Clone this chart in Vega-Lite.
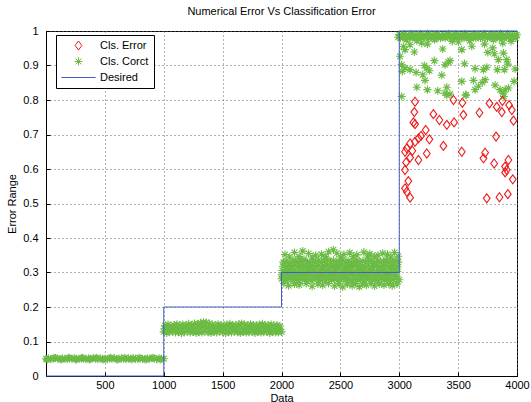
{
"$schema": "https://vega.github.io/schema/vega-lite/v6.json",
"width": 471, "height": 345,
"autosize": "none",
"padding": {"left": 46, "top": 31, "right": 14, "bottom": 26},
"title": {"text": "Numerical Error Vs Classification Error", "fontSize": 11, "fontWeight": "normal", "font": "Liberation Sans", "color": "black", "offset": 8, "anchor": "middle"},
"config": {
 "view": {"stroke": "black", "strokeWidth": 1},
 "axis": {"domainColor": "black", "tickColor": "black", "labelColor": "black", "titleColor": "black", "labelFont": "Liberation Sans", "titleFont": "Liberation Sans", "labelFontSize": 11, "titleFontSize": 11, "titleFontWeight": "normal", "grid": true, "gridDash": [1, 3], "gridColor": "#666", "tickSize": -4, "labelOverlap": false, "labelFlush": false},
 "legend": {"orient": "none", "legendX": 10, "legendY": 4, "fillColor": "white", "strokeColor": "black", "padding": 5, "labelFont": "Liberation Sans", "labelFontSize": 11, "labelColor": "black", "symbolSize": 81, "symbolStrokeWidth": 1, "symbolOffset": 12, "labelOffset": 16, "rowPadding": 3}
},
"data": {"values": [
{"x":0,"y":0.050,"s":"c"},{"x":20,"y":0.051,"s":"c"},{"x":40,"y":0.049,"s":"c"},{"x":60,"y":0.050,"s":"c"},{"x":80,"y":0.052,"s":"c"},{"x":100,"y":0.050,"s":"c"},{"x":120,"y":0.049,"s":"c"},{"x":140,"y":0.051,"s":"c"},{"x":160,"y":0.050,"s":"c"},{"x":180,"y":0.049,"s":"c"},{"x":200,"y":0.051,"s":"c"},{"x":220,"y":0.050,"s":"c"},{"x":240,"y":0.052,"s":"c"},{"x":260,"y":0.049,"s":"c"},{"x":280,"y":0.050,"s":"c"},{"x":300,"y":0.051,"s":"c"},{"x":320,"y":0.050,"s":"c"},{"x":340,"y":0.049,"s":"c"},{"x":360,"y":0.051,"s":"c"},{"x":380,"y":0.050,"s":"c"},{"x":400,"y":0.052,"s":"c"},{"x":420,"y":0.050,"s":"c"},{"x":440,"y":0.049,"s":"c"},{"x":460,"y":0.051,"s":"c"},{"x":480,"y":0.050,"s":"c"},{"x":500,"y":0.050,"s":"c"},{"x":520,"y":0.049,"s":"c"},{"x":540,"y":0.051,"s":"c"},{"x":560,"y":0.050,"s":"c"},{"x":580,"y":0.052,"s":"c"},{"x":600,"y":0.049,"s":"c"},{"x":620,"y":0.050,"s":"c"},{"x":640,"y":0.051,"s":"c"},{"x":660,"y":0.050,"s":"c"},{"x":680,"y":0.049,"s":"c"},{"x":700,"y":0.051,"s":"c"},{"x":720,"y":0.050,"s":"c"},{"x":740,"y":0.052,"s":"c"},{"x":760,"y":0.050,"s":"c"},{"x":780,"y":0.049,"s":"c"},{"x":800,"y":0.051,"s":"c"},{"x":820,"y":0.050,"s":"c"},{"x":840,"y":0.049,"s":"c"},{"x":860,"y":0.051,"s":"c"},{"x":880,"y":0.050,"s":"c"},{"x":900,"y":0.052,"s":"c"},{"x":920,"y":0.050,"s":"c"},{"x":940,"y":0.049,"s":"c"},{"x":960,"y":0.051,"s":"c"},{"x":980,"y":0.050,"s":"c"},{"x":1000,"y":0.050,"s":"c"},
{"x":10,"y":0.048,"s":"c"},{"x":70,"y":0.053,"s":"c"},{"x":130,"y":0.048,"s":"c"},{"x":190,"y":0.053,"s":"c"},{"x":250,"y":0.048,"s":"c"},{"x":310,"y":0.053,"s":"c"},{"x":370,"y":0.048,"s":"c"},{"x":430,"y":0.053,"s":"c"},{"x":490,"y":0.048,"s":"c"},{"x":550,"y":0.053,"s":"c"},{"x":610,"y":0.048,"s":"c"},{"x":670,"y":0.053,"s":"c"},{"x":730,"y":0.048,"s":"c"},{"x":790,"y":0.053,"s":"c"},{"x":850,"y":0.048,"s":"c"},{"x":910,"y":0.053,"s":"c"},{"x":970,"y":0.048,"s":"c"},
{"x":1000,"y":0.128,"s":"c"},{"x":1025,"y":0.125,"s":"c"},{"x":1050,"y":0.127,"s":"c"},{"x":1075,"y":0.129,"s":"c"},{"x":1100,"y":0.126,"s":"c"},{"x":1125,"y":0.128,"s":"c"},{"x":1150,"y":0.124,"s":"c"},{"x":1175,"y":0.127,"s":"c"},{"x":1200,"y":0.129,"s":"c"},{"x":1225,"y":0.126,"s":"c"},{"x":1250,"y":0.128,"s":"c"},{"x":1275,"y":0.125,"s":"c"},{"x":1300,"y":0.127,"s":"c"},{"x":1325,"y":0.126,"s":"c"},{"x":1350,"y":0.129,"s":"c"},{"x":1375,"y":0.127,"s":"c"},{"x":1400,"y":0.125,"s":"c"},{"x":1425,"y":0.128,"s":"c"},{"x":1450,"y":0.126,"s":"c"},{"x":1475,"y":0.129,"s":"c"},{"x":1500,"y":0.127,"s":"c"},{"x":1525,"y":0.124,"s":"c"},{"x":1550,"y":0.128,"s":"c"},{"x":1575,"y":0.126,"s":"c"},{"x":1600,"y":0.129,"s":"c"},{"x":1625,"y":0.127,"s":"c"},{"x":1650,"y":0.125,"s":"c"},{"x":1675,"y":0.128,"s":"c"},{"x":1700,"y":0.126,"s":"c"},{"x":1725,"y":0.127,"s":"c"},{"x":1750,"y":0.129,"s":"c"},{"x":1775,"y":0.125,"s":"c"},{"x":1800,"y":0.128,"s":"c"},{"x":1825,"y":0.126,"s":"c"},{"x":1850,"y":0.127,"s":"c"},{"x":1875,"y":0.129,"s":"c"},{"x":1900,"y":0.125,"s":"c"},{"x":1925,"y":0.128,"s":"c"},{"x":1950,"y":0.126,"s":"c"},{"x":1975,"y":0.127,"s":"c"},{"x":2000,"y":0.128,"s":"c"},
{"x":1006,"y":0.137,"s":"c"},{"x":1031,"y":0.139,"s":"c"},{"x":1056,"y":0.136,"s":"c"},{"x":1081,"y":0.138,"s":"c"},{"x":1106,"y":0.137,"s":"c"},{"x":1131,"y":0.139,"s":"c"},{"x":1156,"y":0.136,"s":"c"},{"x":1181,"y":0.138,"s":"c"},{"x":1206,"y":0.137,"s":"c"},{"x":1231,"y":0.139,"s":"c"},{"x":1256,"y":0.138,"s":"c"},{"x":1281,"y":0.140,"s":"c"},{"x":1306,"y":0.141,"s":"c"},{"x":1331,"y":0.142,"s":"c"},{"x":1356,"y":0.141,"s":"c"},{"x":1381,"y":0.139,"s":"c"},{"x":1406,"y":0.137,"s":"c"},{"x":1431,"y":0.138,"s":"c"},{"x":1456,"y":0.136,"s":"c"},{"x":1481,"y":0.138,"s":"c"},{"x":1506,"y":0.137,"s":"c"},{"x":1531,"y":0.139,"s":"c"},{"x":1556,"y":0.136,"s":"c"},{"x":1581,"y":0.138,"s":"c"},{"x":1606,"y":0.137,"s":"c"},{"x":1631,"y":0.139,"s":"c"},{"x":1656,"y":0.138,"s":"c"},{"x":1681,"y":0.136,"s":"c"},{"x":1706,"y":0.137,"s":"c"},{"x":1731,"y":0.139,"s":"c"},{"x":1756,"y":0.138,"s":"c"},{"x":1781,"y":0.136,"s":"c"},{"x":1806,"y":0.137,"s":"c"},{"x":1831,"y":0.139,"s":"c"},{"x":1856,"y":0.138,"s":"c"},{"x":1881,"y":0.136,"s":"c"},{"x":1906,"y":0.137,"s":"c"},{"x":1931,"y":0.139,"s":"c"},{"x":1956,"y":0.138,"s":"c"},{"x":1981,"y":0.136,"s":"c"},
{"x":1012,"y":0.146,"s":"c"},{"x":1037,"y":0.149,"s":"c"},{"x":1062,"y":0.145,"s":"c"},{"x":1087,"y":0.148,"s":"c"},{"x":1112,"y":0.150,"s":"c"},{"x":1137,"y":0.146,"s":"c"},{"x":1162,"y":0.149,"s":"c"},{"x":1187,"y":0.147,"s":"c"},{"x":1212,"y":0.151,"s":"c"},{"x":1237,"y":0.148,"s":"c"},{"x":1262,"y":0.152,"s":"c"},{"x":1287,"y":0.150,"s":"c"},{"x":1312,"y":0.154,"s":"c"},{"x":1337,"y":0.156,"s":"c"},{"x":1362,"y":0.155,"s":"c"},{"x":1387,"y":0.152,"s":"c"},{"x":1412,"y":0.149,"s":"c"},{"x":1437,"y":0.147,"s":"c"},{"x":1462,"y":0.150,"s":"c"},{"x":1487,"y":0.148,"s":"c"},{"x":1512,"y":0.146,"s":"c"},{"x":1537,"y":0.149,"s":"c"},{"x":1562,"y":0.151,"s":"c"},{"x":1587,"y":0.148,"s":"c"},{"x":1612,"y":0.147,"s":"c"},{"x":1637,"y":0.150,"s":"c"},{"x":1662,"y":0.152,"s":"c"},{"x":1687,"y":0.149,"s":"c"},{"x":1712,"y":0.147,"s":"c"},{"x":1737,"y":0.150,"s":"c"},{"x":1762,"y":0.148,"s":"c"},{"x":1787,"y":0.146,"s":"c"},{"x":1812,"y":0.149,"s":"c"},{"x":1837,"y":0.151,"s":"c"},{"x":1862,"y":0.148,"s":"c"},{"x":1887,"y":0.147,"s":"c"},{"x":1912,"y":0.149,"s":"c"},{"x":1937,"y":0.146,"s":"c"},{"x":1962,"y":0.148,"s":"c"},{"x":1987,"y":0.145,"s":"c"},
{"x":2000,"y":0.282,"s":"c"},{"x":2025,"y":0.277,"s":"c"},{"x":2050,"y":0.280,"s":"c"},{"x":2075,"y":0.284,"s":"c"},{"x":2100,"y":0.278,"s":"c"},{"x":2125,"y":0.281,"s":"c"},{"x":2150,"y":0.276,"s":"c"},{"x":2175,"y":0.283,"s":"c"},{"x":2200,"y":0.279,"s":"c"},{"x":2225,"y":0.282,"s":"c"},{"x":2250,"y":0.277,"s":"c"},{"x":2275,"y":0.280,"s":"c"},{"x":2300,"y":0.284,"s":"c"},{"x":2325,"y":0.278,"s":"c"},{"x":2350,"y":0.281,"s":"c"},{"x":2375,"y":0.276,"s":"c"},{"x":2400,"y":0.283,"s":"c"},{"x":2425,"y":0.279,"s":"c"},{"x":2450,"y":0.282,"s":"c"},{"x":2475,"y":0.277,"s":"c"},{"x":2500,"y":0.280,"s":"c"},{"x":2525,"y":0.284,"s":"c"},{"x":2550,"y":0.278,"s":"c"},{"x":2575,"y":0.281,"s":"c"},{"x":2600,"y":0.276,"s":"c"},{"x":2625,"y":0.283,"s":"c"},{"x":2650,"y":0.279,"s":"c"},{"x":2675,"y":0.282,"s":"c"},{"x":2700,"y":0.277,"s":"c"},{"x":2725,"y":0.280,"s":"c"},{"x":2750,"y":0.284,"s":"c"},{"x":2775,"y":0.278,"s":"c"},{"x":2800,"y":0.281,"s":"c"},{"x":2825,"y":0.276,"s":"c"},{"x":2850,"y":0.283,"s":"c"},{"x":2875,"y":0.279,"s":"c"},{"x":2900,"y":0.282,"s":"c"},{"x":2925,"y":0.277,"s":"c"},{"x":2950,"y":0.280,"s":"c"},{"x":2975,"y":0.283,"s":"c"},{"x":3000,"y":0.279,"s":"c"},
{"x":2004,"y":0.293,"s":"c"},{"x":2029,"y":0.290,"s":"c"},{"x":2054,"y":0.295,"s":"c"},{"x":2079,"y":0.292,"s":"c"},{"x":2104,"y":0.289,"s":"c"},{"x":2129,"y":0.294,"s":"c"},{"x":2154,"y":0.291,"s":"c"},{"x":2179,"y":0.293,"s":"c"},{"x":2204,"y":0.290,"s":"c"},{"x":2229,"y":0.295,"s":"c"},{"x":2254,"y":0.292,"s":"c"},{"x":2279,"y":0.289,"s":"c"},{"x":2304,"y":0.294,"s":"c"},{"x":2329,"y":0.291,"s":"c"},{"x":2354,"y":0.293,"s":"c"},{"x":2379,"y":0.290,"s":"c"},{"x":2404,"y":0.295,"s":"c"},{"x":2429,"y":0.292,"s":"c"},{"x":2454,"y":0.289,"s":"c"},{"x":2479,"y":0.294,"s":"c"},{"x":2504,"y":0.291,"s":"c"},{"x":2529,"y":0.293,"s":"c"},{"x":2554,"y":0.290,"s":"c"},{"x":2579,"y":0.295,"s":"c"},{"x":2604,"y":0.292,"s":"c"},{"x":2629,"y":0.289,"s":"c"},{"x":2654,"y":0.294,"s":"c"},{"x":2679,"y":0.291,"s":"c"},{"x":2704,"y":0.293,"s":"c"},{"x":2729,"y":0.290,"s":"c"},{"x":2754,"y":0.295,"s":"c"},{"x":2779,"y":0.292,"s":"c"},{"x":2804,"y":0.289,"s":"c"},{"x":2829,"y":0.294,"s":"c"},{"x":2854,"y":0.291,"s":"c"},{"x":2879,"y":0.293,"s":"c"},{"x":2904,"y":0.290,"s":"c"},{"x":2929,"y":0.295,"s":"c"},{"x":2954,"y":0.292,"s":"c"},{"x":2979,"y":0.289,"s":"c"},
{"x":2008,"y":0.306,"s":"c"},{"x":2033,"y":0.301,"s":"c"},{"x":2058,"y":0.309,"s":"c"},{"x":2083,"y":0.303,"s":"c"},{"x":2108,"y":0.307,"s":"c"},{"x":2133,"y":0.300,"s":"c"},{"x":2158,"y":0.305,"s":"c"},{"x":2183,"y":0.310,"s":"c"},{"x":2208,"y":0.302,"s":"c"},{"x":2233,"y":0.306,"s":"c"},{"x":2258,"y":0.304,"s":"c"},{"x":2283,"y":0.308,"s":"c"},{"x":2308,"y":0.301,"s":"c"},{"x":2333,"y":0.305,"s":"c"},{"x":2358,"y":0.309,"s":"c"},{"x":2383,"y":0.303,"s":"c"},{"x":2408,"y":0.307,"s":"c"},{"x":2433,"y":0.300,"s":"c"},{"x":2458,"y":0.305,"s":"c"},{"x":2483,"y":0.310,"s":"c"},{"x":2508,"y":0.302,"s":"c"},{"x":2533,"y":0.306,"s":"c"},{"x":2558,"y":0.304,"s":"c"},{"x":2583,"y":0.308,"s":"c"},{"x":2608,"y":0.301,"s":"c"},{"x":2633,"y":0.305,"s":"c"},{"x":2658,"y":0.309,"s":"c"},{"x":2683,"y":0.303,"s":"c"},{"x":2708,"y":0.307,"s":"c"},{"x":2733,"y":0.300,"s":"c"},{"x":2758,"y":0.305,"s":"c"},{"x":2783,"y":0.310,"s":"c"},{"x":2808,"y":0.302,"s":"c"},{"x":2833,"y":0.306,"s":"c"},{"x":2858,"y":0.304,"s":"c"},{"x":2883,"y":0.308,"s":"c"},{"x":2908,"y":0.301,"s":"c"},{"x":2933,"y":0.305,"s":"c"},{"x":2958,"y":0.309,"s":"c"},{"x":2983,"y":0.303,"s":"c"},
{"x":2012,"y":0.318,"s":"c"},{"x":2037,"y":0.315,"s":"c"},{"x":2062,"y":0.320,"s":"c"},{"x":2087,"y":0.317,"s":"c"},{"x":2112,"y":0.321,"s":"c"},{"x":2137,"y":0.316,"s":"c"},{"x":2162,"y":0.319,"s":"c"},{"x":2187,"y":0.322,"s":"c"},{"x":2212,"y":0.317,"s":"c"},{"x":2237,"y":0.315,"s":"c"},{"x":2262,"y":0.320,"s":"c"},{"x":2287,"y":0.318,"s":"c"},{"x":2312,"y":0.321,"s":"c"},{"x":2337,"y":0.316,"s":"c"},{"x":2362,"y":0.319,"s":"c"},{"x":2387,"y":0.322,"s":"c"},{"x":2412,"y":0.317,"s":"c"},{"x":2437,"y":0.320,"s":"c"},{"x":2462,"y":0.315,"s":"c"},{"x":2487,"y":0.318,"s":"c"},{"x":2512,"y":0.321,"s":"c"},{"x":2537,"y":0.316,"s":"c"},{"x":2562,"y":0.319,"s":"c"},{"x":2587,"y":0.317,"s":"c"},{"x":2612,"y":0.320,"s":"c"},{"x":2637,"y":0.322,"s":"c"},{"x":2662,"y":0.316,"s":"c"},{"x":2687,"y":0.318,"s":"c"},{"x":2712,"y":0.315,"s":"c"},{"x":2737,"y":0.321,"s":"c"},{"x":2762,"y":0.317,"s":"c"},{"x":2787,"y":0.319,"s":"c"},{"x":2812,"y":0.320,"s":"c"},{"x":2837,"y":0.316,"s":"c"},{"x":2862,"y":0.318,"s":"c"},{"x":2887,"y":0.321,"s":"c"},{"x":2912,"y":0.317,"s":"c"},{"x":2937,"y":0.319,"s":"c"},{"x":2962,"y":0.320,"s":"c"},{"x":2987,"y":0.316,"s":"c"},
{"x":2016,"y":0.330,"s":"c"},{"x":2041,"y":0.334,"s":"c"},{"x":2066,"y":0.327,"s":"c"},{"x":2091,"y":0.332,"s":"c"},{"x":2116,"y":0.336,"s":"c"},{"x":2141,"y":0.329,"s":"c"},{"x":2166,"y":0.333,"s":"c"},{"x":2191,"y":0.338,"s":"c"},{"x":2216,"y":0.331,"s":"c"},{"x":2241,"y":0.328,"s":"c"},{"x":2266,"y":0.334,"s":"c"},{"x":2291,"y":0.330,"s":"c"},{"x":2316,"y":0.336,"s":"c"},{"x":2341,"y":0.329,"s":"c"},{"x":2366,"y":0.333,"s":"c"},{"x":2391,"y":0.337,"s":"c"},{"x":2416,"y":0.331,"s":"c"},{"x":2441,"y":0.335,"s":"c"},{"x":2466,"y":0.328,"s":"c"},{"x":2491,"y":0.332,"s":"c"},{"x":2516,"y":0.336,"s":"c"},{"x":2541,"y":0.330,"s":"c"},{"x":2566,"y":0.334,"s":"c"},{"x":2591,"y":0.327,"s":"c"},{"x":2616,"y":0.332,"s":"c"},{"x":2641,"y":0.335,"s":"c"},{"x":2666,"y":0.329,"s":"c"},{"x":2691,"y":0.333,"s":"c"},{"x":2716,"y":0.330,"s":"c"},{"x":2741,"y":0.336,"s":"c"},{"x":2766,"y":0.331,"s":"c"},{"x":2791,"y":0.328,"s":"c"},{"x":2816,"y":0.334,"s":"c"},{"x":2841,"y":0.330,"s":"c"},{"x":2866,"y":0.333,"s":"c"},{"x":2891,"y":0.336,"s":"c"},{"x":2916,"y":0.329,"s":"c"},{"x":2941,"y":0.332,"s":"c"},{"x":2966,"y":0.335,"s":"c"},{"x":2991,"y":0.330,"s":"c"},
{"x":2030,"y":0.352,"s":"c"},{"x":2070,"y":0.345,"s":"c"},{"x":2110,"y":0.358,"s":"c"},{"x":2150,"y":0.346,"s":"c"},{"x":2180,"y":0.362,"s":"c"},{"x":2230,"y":0.355,"s":"c"},{"x":2260,"y":0.345,"s":"c"},{"x":2290,"y":0.350,"s":"c"},{"x":2340,"y":0.353,"s":"c"},{"x":2370,"y":0.346,"s":"c"},{"x":2400,"y":0.360,"s":"c"},{"x":2440,"y":0.366,"s":"c"},{"x":2470,"y":0.356,"s":"c"},{"x":2500,"y":0.345,"s":"c"},{"x":2530,"y":0.352,"s":"c"},{"x":2580,"y":0.357,"s":"c"},{"x":2610,"y":0.346,"s":"c"},{"x":2640,"y":0.351,"s":"c"},{"x":2700,"y":0.359,"s":"c"},{"x":2730,"y":0.345,"s":"c"},{"x":2750,"y":0.354,"s":"c"},{"x":2790,"y":0.346,"s":"c"},{"x":2820,"y":0.350,"s":"c"},{"x":2860,"y":0.356,"s":"c"},{"x":2900,"y":0.353,"s":"c"},{"x":2930,"y":0.345,"s":"c"},{"x":2960,"y":0.358,"s":"c"},{"x":2990,"y":0.347,"s":"c"},
{"x":2020,"y":0.268,"s":"c"},{"x":2060,"y":0.262,"s":"c"},{"x":2110,"y":0.267,"s":"c"},{"x":2150,"y":0.264,"s":"c"},{"x":2210,"y":0.268,"s":"c"},{"x":2260,"y":0.260,"s":"c"},{"x":2310,"y":0.267,"s":"c"},{"x":2350,"y":0.263,"s":"c"},{"x":2400,"y":0.268,"s":"c"},{"x":2450,"y":0.261,"s":"c"},{"x":2490,"y":0.267,"s":"c"},{"x":2520,"y":0.258,"s":"c"},{"x":2560,"y":0.267,"s":"c"},{"x":2600,"y":0.262,"s":"c"},{"x":2630,"y":0.268,"s":"c"},{"x":2660,"y":0.259,"s":"c"},{"x":2690,"y":0.267,"s":"c"},{"x":2720,"y":0.263,"s":"c"},{"x":2760,"y":0.268,"s":"c"},{"x":2790,"y":0.261,"s":"c"},{"x":2830,"y":0.267,"s":"c"},{"x":2870,"y":0.264,"s":"c"},{"x":2910,"y":0.268,"s":"c"},{"x":2940,"y":0.262,"s":"c"},{"x":2980,"y":0.267,"s":"c"},
{"x":3000,"y":0.990,"s":"c"},{"x":3020,"y":0.987,"s":"c"},{"x":3040,"y":0.991,"s":"c"},{"x":3060,"y":0.985,"s":"c"},{"x":3080,"y":0.989,"s":"c"},{"x":3100,"y":0.992,"s":"c"},{"x":3120,"y":0.986,"s":"c"},{"x":3140,"y":0.990,"s":"c"},{"x":3160,"y":0.988,"s":"c"},{"x":3180,"y":0.991,"s":"c"},{"x":3200,"y":0.985,"s":"c"},{"x":3220,"y":0.989,"s":"c"},{"x":3240,"y":0.992,"s":"c"},{"x":3260,"y":0.987,"s":"c"},{"x":3280,"y":0.990,"s":"c"},{"x":3300,"y":0.986,"s":"c"},{"x":3320,"y":0.991,"s":"c"},{"x":3340,"y":0.988,"s":"c"},{"x":3360,"y":0.984,"s":"c"},{"x":3380,"y":0.990,"s":"c"},{"x":3400,"y":0.987,"s":"c"},{"x":3420,"y":0.992,"s":"c"},{"x":3440,"y":0.989,"s":"c"},{"x":3460,"y":0.985,"s":"c"},{"x":3480,"y":0.991,"s":"c"},{"x":3500,"y":0.988,"s":"c"},{"x":3520,"y":0.986,"s":"c"},{"x":3540,"y":0.990,"s":"c"},{"x":3560,"y":0.992,"s":"c"},{"x":3580,"y":0.987,"s":"c"},{"x":3600,"y":0.989,"s":"c"},{"x":3620,"y":0.985,"s":"c"},{"x":3640,"y":0.991,"s":"c"},{"x":3660,"y":0.988,"s":"c"},{"x":3680,"y":0.990,"s":"c"},{"x":3700,"y":0.986,"s":"c"},{"x":3720,"y":0.992,"s":"c"},{"x":3740,"y":0.989,"s":"c"},{"x":3760,"y":0.987,"s":"c"},{"x":3780,"y":0.991,"s":"c"},{"x":3800,"y":0.985,"s":"c"},{"x":3820,"y":0.990,"s":"c"},{"x":3840,"y":0.988,"s":"c"},{"x":3860,"y":0.992,"s":"c"},{"x":3880,"y":0.986,"s":"c"},{"x":3900,"y":0.989,"s":"c"},{"x":3920,"y":0.991,"s":"c"},{"x":3940,"y":0.987,"s":"c"},{"x":3960,"y":0.990,"s":"c"},{"x":3980,"y":0.988,"s":"c"},{"x":4000,"y":0.989,"s":"c"},
{"x":2990,"y":0.982,"s":"c"},{"x":3010,"y":0.980,"s":"c"},{"x":3030,"y":0.983,"s":"c"},{"x":3050,"y":0.979,"s":"c"},{"x":3070,"y":0.982,"s":"c"},{"x":3090,"y":0.980,"s":"c"},{"x":3110,"y":0.983,"s":"c"},{"x":3130,"y":0.981,"s":"c"},{"x":3150,"y":0.979,"s":"c"},{"x":3170,"y":0.982,"s":"c"},{"x":3190,"y":0.980,"s":"c"},{"x":3210,"y":0.983,"s":"c"},{"x":3230,"y":0.981,"s":"c"},{"x":3250,"y":0.979,"s":"c"},{"x":3270,"y":0.982,"s":"c"},{"x":3290,"y":0.980,"s":"c"},{"x":3310,"y":0.983,"s":"c"},{"x":3330,"y":0.981,"s":"c"},{"x":3350,"y":0.979,"s":"c"},{"x":3370,"y":0.982,"s":"c"},{"x":3390,"y":0.980,"s":"c"},{"x":3410,"y":0.983,"s":"c"},{"x":3430,"y":0.981,"s":"c"},{"x":3450,"y":0.979,"s":"c"},{"x":3470,"y":0.982,"s":"c"},{"x":3490,"y":0.980,"s":"c"},{"x":3510,"y":0.983,"s":"c"},{"x":3530,"y":0.981,"s":"c"},{"x":3550,"y":0.979,"s":"c"},{"x":3570,"y":0.982,"s":"c"},{"x":3590,"y":0.980,"s":"c"},{"x":3610,"y":0.983,"s":"c"},{"x":3630,"y":0.981,"s":"c"},{"x":3650,"y":0.979,"s":"c"},{"x":3670,"y":0.982,"s":"c"},{"x":3690,"y":0.980,"s":"c"},{"x":3710,"y":0.983,"s":"c"},{"x":3730,"y":0.981,"s":"c"},{"x":3750,"y":0.979,"s":"c"},{"x":3770,"y":0.982,"s":"c"},{"x":3790,"y":0.980,"s":"c"},{"x":3810,"y":0.983,"s":"c"},{"x":3830,"y":0.981,"s":"c"},{"x":3850,"y":0.979,"s":"c"},{"x":3870,"y":0.982,"s":"c"},{"x":3890,"y":0.980,"s":"c"},{"x":3910,"y":0.983,"s":"c"},{"x":3930,"y":0.981,"s":"c"},{"x":3950,"y":0.979,"s":"c"},{"x":3970,"y":0.982,"s":"c"},{"x":3990,"y":0.980,"s":"c"},
{"x":3035,"y":0.955,"s":"c"},{"x":3049,"y":0.946,"s":"c"},{"x":3092,"y":0.960,"s":"c"},{"x":3128,"y":0.939,"s":"c"},{"x":3007,"y":0.927,"s":"c"},{"x":3191,"y":0.965,"s":"c"},{"x":3239,"y":0.962,"s":"c"},{"x":3369,"y":0.948,"s":"c"},{"x":3502,"y":0.968,"s":"c"},{"x":3531,"y":0.946,"s":"c"},{"x":3616,"y":0.956,"s":"c"},{"x":3724,"y":0.962,"s":"c"},{"x":3752,"y":0.938,"s":"c"},{"x":3794,"y":0.951,"s":"c"},{"x":3808,"y":0.934,"s":"c"},{"x":3885,"y":0.936,"s":"c"},{"x":3879,"y":0.965,"s":"c"},{"x":3842,"y":0.917,"s":"c"},{"x":3913,"y":0.917,"s":"c"},{"x":3298,"y":0.914,"s":"c"},{"x":3417,"y":0.910,"s":"c"},{"x":3431,"y":0.914,"s":"c"},{"x":3389,"y":0.902,"s":"c"},{"x":3554,"y":0.905,"s":"c"},{"x":3021,"y":0.902,"s":"c"},{"x":3049,"y":0.893,"s":"c"},{"x":3026,"y":0.883,"s":"c"},{"x":3092,"y":0.888,"s":"c"},{"x":3213,"y":0.900,"s":"c"},{"x":3234,"y":0.893,"s":"c"},{"x":3256,"y":0.885,"s":"c"},{"x":3143,"y":0.880,"s":"c"},{"x":3200,"y":0.873,"s":"c"},{"x":3361,"y":0.872,"s":"c"},{"x":3219,"y":0.857,"s":"c"},{"x":3644,"y":0.891,"s":"c"},{"x":3715,"y":0.888,"s":"c"},{"x":3743,"y":0.895,"s":"c"},{"x":3833,"y":0.888,"s":"c"},{"x":3893,"y":0.888,"s":"c"},{"x":3984,"y":0.890,"s":"c"},{"x":3922,"y":0.904,"s":"c"},{"x":3630,"y":0.857,"s":"c"},{"x":3531,"y":0.854,"s":"c"},{"x":3729,"y":0.859,"s":"c"},{"x":3706,"y":0.851,"s":"c"},{"x":3672,"y":0.840,"s":"c"},{"x":3644,"y":0.830,"s":"c"},{"x":3814,"y":0.843,"s":"c"},{"x":3856,"y":0.830,"s":"c"},{"x":3899,"y":0.830,"s":"c"},{"x":3928,"y":0.835,"s":"c"},{"x":3975,"y":0.854,"s":"c"},{"x":3879,"y":0.820,"s":"c"},{"x":3149,"y":0.837,"s":"c"},{"x":3239,"y":0.830,"s":"c"},{"x":3327,"y":0.827,"s":"c"},{"x":3404,"y":0.837,"s":"c"},{"x":3389,"y":0.820,"s":"c"},{"x":3431,"y":0.817,"s":"c"},{"x":3565,"y":0.815,"s":"c"},{"x":3021,"y":0.810,"s":"c"},{"x":3404,"y":0.814,"s":"c"},{"x":3567,"y":0.814,"s":"c"},{"x":3890,"y":0.810,"s":"c"},{"x":3060,"y":0.975,"s":"c"},{"x":3150,"y":0.972,"s":"c"},{"x":3300,"y":0.975,"s":"c"},{"x":3450,"y":0.970,"s":"c"},{"x":3600,"y":0.972,"s":"c"},{"x":3800,"y":0.975,"s":"c"},{"x":3950,"y":0.970,"s":"c"},
{"x":3134,"y":0.795,"s":"e"},{"x":3128,"y":0.765,"s":"e"},{"x":3120,"y":0.735,"s":"e"},{"x":3134,"y":0.730,"s":"e"},{"x":3290,"y":0.759,"s":"e"},{"x":3341,"y":0.742,"s":"e"},{"x":3404,"y":0.728,"s":"e"},{"x":3466,"y":0.735,"s":"e"},{"x":3460,"y":0.800,"s":"e"},{"x":3536,"y":0.792,"s":"e"},{"x":3545,"y":0.757,"s":"e"},{"x":3681,"y":0.763,"s":"e"},{"x":3766,"y":0.790,"s":"e"},{"x":3828,"y":0.780,"s":"e"},{"x":3876,"y":0.797,"s":"e"},{"x":3871,"y":0.765,"s":"e"},{"x":3933,"y":0.785,"s":"e"},{"x":3956,"y":0.771,"s":"e"},{"x":3970,"y":0.740,"s":"e"},{"x":3225,"y":0.713,"s":"e"},{"x":3185,"y":0.696,"s":"e"},{"x":3163,"y":0.689,"s":"e"},{"x":3256,"y":0.686,"s":"e"},{"x":3134,"y":0.679,"s":"e"},{"x":3092,"y":0.674,"s":"e"},{"x":3064,"y":0.660,"s":"e"},{"x":3049,"y":0.650,"s":"e"},{"x":3111,"y":0.653,"s":"e"},{"x":3375,"y":0.667,"s":"e"},{"x":3822,"y":0.694,"s":"e"},{"x":3531,"y":0.650,"s":"e"},{"x":3729,"y":0.647,"s":"e"},{"x":3234,"y":0.645,"s":"e"},{"x":3092,"y":0.633,"s":"e"},{"x":3163,"y":0.626,"s":"e"},{"x":3058,"y":0.619,"s":"e"},{"x":3049,"y":0.597,"s":"e"},{"x":3077,"y":0.565,"s":"e"},{"x":3049,"y":0.544,"s":"e"},{"x":3064,"y":0.534,"s":"e"},{"x":3092,"y":0.517,"s":"e"},{"x":3715,"y":0.631,"s":"e"},{"x":3806,"y":0.616,"s":"e"},{"x":3927,"y":0.626,"s":"e"},{"x":3899,"y":0.607,"s":"e"},{"x":3913,"y":0.597,"s":"e"},{"x":3899,"y":0.590,"s":"e"},{"x":3964,"y":0.570,"s":"e"},{"x":3743,"y":0.515,"s":"e"},{"x":3851,"y":0.518,"s":"e"},{"x":3922,"y":0.527,"s":"e"},
{"x":0,"y":0,"s":"d","o":1},{"x":1000,"y":0,"s":"d","o":2},{"x":1000,"y":0.2,"s":"d","o":3},{"x":2000,"y":0.2,"s":"d","o":4},{"x":2000,"y":0.3,"s":"d","o":5},{"x":3000,"y":0.3,"s":"d","o":6},{"x":3000,"y":1,"s":"d","o":7},{"x":4000,"y":1,"s":"d","o":8}
]},
"encoding": {
 "x": {"field": "x", "type": "quantitative", "scale": {"domain": [0, 4000], "nice": false, "zero": false}, "axis": {"title": "Data", "values": [500, 1000, 1500, 2000, 2500, 3000, 3500, 4000], "format": "d", "labelPadding": 7, "titlePadding": 2}},
 "y": {"field": "y", "type": "quantitative", "scale": {"domain": [0, 1], "nice": false}, "axis": {"title": "Error Range", "values": [0, 0.1, 0.2, 0.3, 0.4, 0.5, 0.6, 0.7, 0.8, 0.9, 1], "format": ".1~f", "labelPadding": 12, "titlePadding": 5}}
},
"layer": [
 {"transform": [{"filter": "datum.s != 'd'"}],
  "mark": {"type": "point", "filled": false, "size": 81, "strokeWidth": 1.1, "opacity": 1},
  "encoding": {
   "color": {"field": "s", "type": "nominal", "scale": {"domain": ["e", "c", "d"], "range": ["#f01818", "#6bbb45", "#3f5fc4"]}, "legend": {"title": null, "labelExpr": "datum.value == 'e' ? 'Cls. Error' : datum.value == 'c' ? 'Cls. Corct' : 'Desired'"}},
   "shape": {"field": "s", "type": "nominal", "scale": {"domain": ["e", "c", "d"], "range": ["M0,-1L0.75,0L0,1L-0.75,0Z", "M-0.9,0H0.9M0,-0.9V0.9M-0.64,-0.64L0.64,0.64M-0.64,0.64L0.64,-0.64", "M-3.8,0H3.8"]}, "legend": {"title": null, "labelExpr": "datum.value == 'e' ? 'Cls. Error' : datum.value == 'c' ? 'Cls. Corct' : 'Desired'"}}
  }},
 {"transform": [{"filter": "datum.s == 'd'"}],
  "mark": {"type": "line", "strokeWidth": 1, "color": "#3f5fc4"},
  "encoding": {
   "order": {"field": "o", "type": "quantitative"}
  }}
]
}
